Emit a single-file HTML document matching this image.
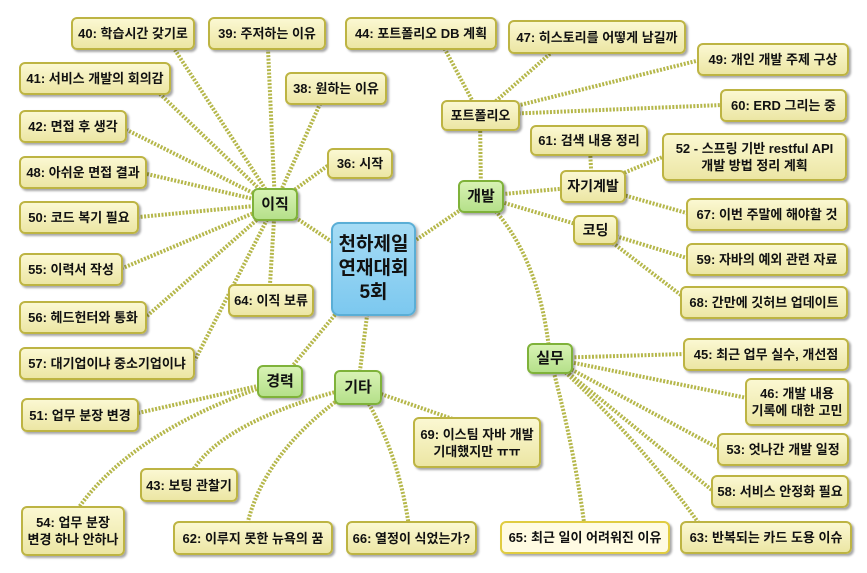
<!DOCTYPE html>
<html><head><meta charset="utf-8"><style>
body{margin:0;width:867px;height:573px;background:#fff;overflow:hidden;position:relative;font-family:"Liberation Sans","Noto Sans CJK KR",sans-serif;}
svg{position:absolute;left:0;top:0}
.n{position:absolute;box-sizing:border-box;display:flex;align-items:center;justify-content:center;text-align:center;font-weight:bold;font-size:13px;line-height:17px;color:#111;border-radius:6px;white-space:nowrap}
.y{background:linear-gradient(#fbf8d2,#ece6a4);border:2px solid #bdb443;box-shadow:2px 2px 2px rgba(0,0,0,.35)}
.g{background:linear-gradient(#d8f2b4,#b5e08a);border:2px solid #7fb23a;box-shadow:2px 2px 2px rgba(0,0,0,.35);font-size:15px}
.c{background:linear-gradient(#a6dcf5,#7cc8ef);border:2px solid #5aaed6;box-shadow:2px 2px 3px rgba(0,0,0,.35);font-size:19px;line-height:24px;border-radius:8px}
</style></head><body>
<svg width="867" height="573"><g stroke="#b5b74a" stroke-width="4" stroke-dasharray="2 1.5" fill="none">
<!-- center -->
<line x1="373" y1="269" x2="275" y2="204"/><line x1="373" y1="269" x2="481" y2="196"/><line x1="373" y1="269" x2="280" y2="381"/><line x1="373" y1="269" x2="358" y2="386"/>
<path d="M481 196 Q540 250 550 358"/>
<!-- 이직 -->
<line x1="275" y1="204" x2="175" y2="50"/><line x1="275" y1="204" x2="268" y2="49"/><line x1="275" y1="204" x2="160" y2="94"/><line x1="275" y1="204" x2="320" y2="104"/><line x1="275" y1="204" x2="127" y2="130"/><line x1="275" y1="204" x2="330" y2="164"/><line x1="275" y1="204" x2="147" y2="174"/><line x1="275" y1="204" x2="139" y2="217"/><line x1="275" y1="204" x2="123" y2="268"/><line x1="275" y1="204" x2="270" y2="284"/><line x1="275" y1="204" x2="147" y2="316"/><line x1="275" y1="204" x2="195" y2="360"/>
<!-- 개발 -->
<line x1="481" y1="196" x2="480" y2="115"/><line x1="481" y1="196" x2="592" y2="186"/><line x1="481" y1="196" x2="596" y2="230"/>
<line x1="480" y1="115" x2="440" y2="40"/><line x1="480" y1="115" x2="560" y2="45"/><line x1="480" y1="115" x2="700" y2="60"/><line x1="480" y1="115" x2="722" y2="105"/>
<line x1="592" y1="186" x2="590" y2="150"/><line x1="592" y1="186" x2="665" y2="156"/><line x1="592" y1="186" x2="690" y2="214"/>
<line x1="596" y1="230" x2="690" y2="259"/><line x1="596" y1="230" x2="690" y2="302"/>
<!-- 실무 -->
<line x1="550" y1="358" x2="685" y2="354"/><line x1="550" y1="358" x2="747" y2="398"/><line x1="550" y1="358" x2="720" y2="449"/><line x1="550" y1="358" x2="713" y2="491"/>
<path d="M550 358 Q575 450 585 530"/><path d="M550 358 Q640 440 700 525"/>
<!-- 경력 -->
<line x1="280" y1="381" x2="138" y2="413"/><path d="M280 381 Q130 430 75 513"/>
<!-- 기타 -->
<line x1="358" y1="386" x2="470" y2="425"/><path d="M358 386 Q220 420 190 475"/><path d="M358 386 Q260 450 245 535"/><path d="M358 386 Q400 450 410 535"/>
</g></svg>

<div class="n y" style="left:71px;top:17px;width:124px;height:33px">40: 학습시간 갖기로</div>
<div class="n y" style="left:208px;top:17px;width:118px;height:33px">39: 주저하는 이유</div>
<div class="n y" style="left:345px;top:17px;width:152px;height:33px">44: 포트폴리오 DB 계획</div>
<div class="n y" style="left:508px;top:20px;width:178px;height:34px">47: 히스토리를 어떻게 남길까</div>
<div class="n y" style="left:697px;top:43px;width:152px;height:33px">49: 개인 개발 주제 구상</div>
<div class="n y" style="left:19px;top:62px;width:152px;height:33px">41: 서비스 개발의 회의감</div>
<div class="n y" style="left:285px;top:72px;width:102px;height:33px">38: 원하는 이유</div>
<div class="n y" style="left:441px;top:100px;width:79px;height:31px">포트폴리오</div>
<div class="n y" style="left:720px;top:89px;width:127px;height:33px">60: ERD 그리는 중</div>
<div class="n y" style="left:19px;top:110px;width:108px;height:33px">42: 면접 후 생각</div>
<div class="n y" style="left:530px;top:125px;width:118px;height:31px">61: 검색 내용 정리</div>
<div class="n y" style="left:662px;top:133px;width:185px;height:48px">52 - 스프링 기반 restful API<br>개발 방법 정리 계획</div>
<div class="n y" style="left:327px;top:148px;width:66px;height:31px">36: 시작</div>
<div class="n y" style="left:19px;top:156px;width:128px;height:33px">48: 아쉬운 면접 결과</div>
<div class="n y" style="left:560px;top:170px;width:66px;height:33px;font-size:14px">자기계발</div>
<div class="n g" style="left:458px;top:180px;width:46px;height:33px">개발</div>
<div class="n g" style="left:252px;top:188px;width:46px;height:33px">이직</div>
<div class="n y" style="left:19px;top:201px;width:120px;height:33px">50: 코드 복기 필요</div>
<div class="n y" style="left:686px;top:198px;width:162px;height:33px">67: 이번 주말에 해야할 것</div>
<div class="n y" style="left:573px;top:215px;width:45px;height:30px;font-size:14px">코딩</div>
<div class="n c" style="left:331px;top:222px;width:85px;height:94px">천하제일<br>연재대회<br>5회</div>
<div class="n y" style="left:19px;top:253px;width:104px;height:33px">55: 이력서 작성</div>
<div class="n y" style="left:686px;top:243px;width:162px;height:33px">59: 자바의 예외 관련 자료</div>
<div class="n y" style="left:228px;top:284px;width:86px;height:33px">64: 이직 보류</div>
<div class="n y" style="left:19px;top:301px;width:128px;height:33px">56: 헤드헌터와 통화</div>
<div class="n y" style="left:680px;top:286px;width:168px;height:33px">68: 간만에 깃허브 업데이트</div>
<div class="n g" style="left:527px;top:343px;width:46px;height:31px">실무</div>
<div class="n y" style="left:683px;top:338px;width:166px;height:33px">45: 최근 업무 실수, 개선점</div>
<div class="n y" style="left:19px;top:347px;width:176px;height:33px">57: 대기업이냐 중소기업이냐</div>
<div class="n g" style="left:257px;top:365px;width:46px;height:33px">경력</div>
<div class="n g" style="left:334px;top:370px;width:48px;height:35px">기타</div>
<div class="n y" style="left:745px;top:378px;width:104px;height:48px">46: 개발 내용<br>기록에 대한 고민</div>
<div class="n y" style="left:21px;top:398px;width:118px;height:34px">51: 업무 분장 변경</div>
<div class="n y" style="left:413px;top:417px;width:128px;height:51px">69: 이스팀 자바 개발<br>기대했지만 ㅠㅠ</div>
<div class="n y" style="left:717px;top:433px;width:132px;height:33px">53: 엇나간 개발 일정</div>
<div class="n y" style="left:140px;top:468px;width:98px;height:34px">43: 보팅 관찰기</div>
<div class="n y" style="left:711px;top:475px;width:138px;height:33px">58: 서비스 안정화 필요</div>
<div class="n y" style="left:21px;top:506px;width:104px;height:50px">54: 업무 분장<br>변경 하나 안하나</div>
<div class="n y" style="left:173px;top:521px;width:160px;height:34px">62: 이루지 못한 뉴욕의 꿈</div>
<div class="n y" style="left:346px;top:521px;width:131px;height:34px">66: 열정이 식었는가?</div>
<div class="n y" style="left:500px;top:521px;width:170px;height:33px;background:#fffbe2;border-color:#e0cc40">65: 최근 일이 어려워진 이유</div>
<div class="n y" style="left:680px;top:521px;width:172px;height:33px">63: 반복되는 카드 도용 이슈</div>
</body></html>
